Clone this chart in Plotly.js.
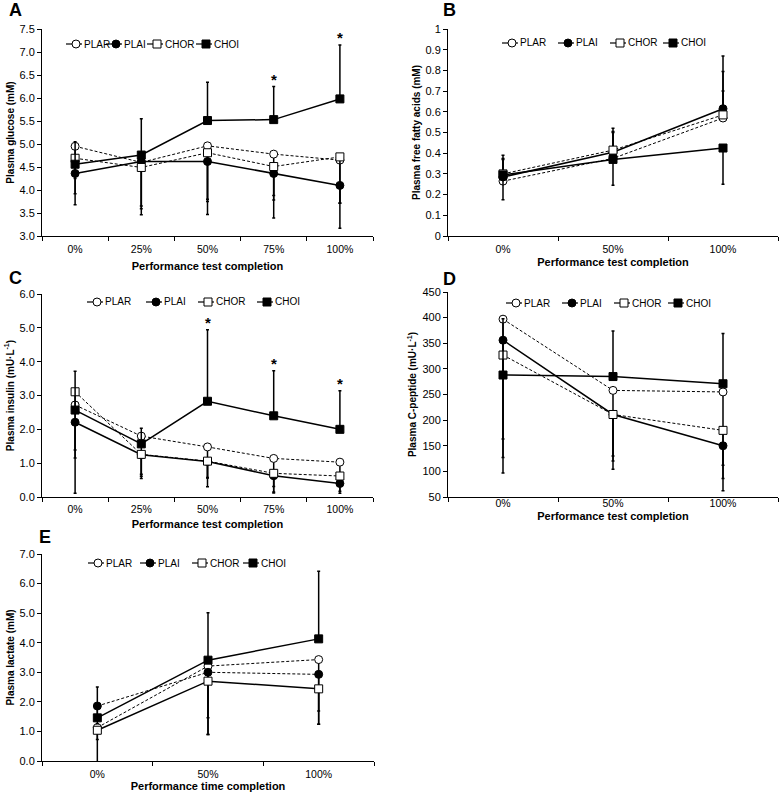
<!DOCTYPE html>
<html><head><meta charset="utf-8">
<script src="https://cdn.plot.ly/plotly-3.0.1.min.js"></script>
<style>html,body{margin:0;padding:0;background:#fff;}#chart{width:779px;height:792px;}</style>
</head><body><div id="chart"></div>
<script>
// ---------------- DATA ----------------
const catsFive = ["0%", "25%", "50%", "75%", "100%"];
const catsThree = ["0%", "50%", "100%"];
const seriesNames = ["PLAR", "PLAI", "CHOR", "CHOI"];

// A: plasma glucose (mM)
const gluPLAR = [4.95, 4.60, 4.96, 4.78, 4.65];
const gluPLAI = [4.36, 4.62, 4.62, 4.36, 4.10];
const gluCHOR = [4.69, 4.49, 4.81, 4.51, 4.72];
const gluCHOI = [4.56, 4.76, 5.51, 5.53, 5.98];
const gluErrPLAR = [0.70, 0.95, 1.16, 0.90, 0.94];   // downward
const gluErrPLAI = [0.68, 1.16, 1.15, 0.97, 0.93];   // downward
const gluErrCHOR = [0.77, 0.90, 1.06, 0.73, 1.00];   // downward
const gluErrCHOI = [0.49, 0.79, 0.83, 0.72, 1.17];   // upward
const gluStars = ["75%", "100%"];

// B: plasma free fatty acids (mM)
const ffaPLAR = [0.265, 0.375, 0.570];
const ffaPLAI = [0.285, 0.405, 0.615];
const ffaCHOR = [0.300, 0.415, 0.585];
const ffaCHOI = [0.295, 0.370, 0.425];
const ffaErrPLAR = [0.105, 0.125, 0.130];  // upward
const ffaErrPLAI = [0.105, 0.115, 0.255];  // upward
const ffaErrCHOR = [0.075, 0.090, 0.210];  // upward
const ffaErrCHOI = [0.120, 0.125, 0.175];  // downward

// C: plasma insulin (mU/L)
const insPLAR = [2.72, 1.80, 1.48, 1.14, 1.03];
const insPLAI = [2.21, 1.25, 1.05, 0.63, 0.40];
const insCHOR = [3.11, 1.26, 1.06, 0.70, 0.62];
const insCHOI = [2.57, 1.57, 2.83, 2.40, 2.00];
const insErrPLAR = [1.33, 1.13, 0.90, 0.83, 0.68];  // downward
const insErrPLAI = [2.10, 0.64, 0.75, 0.51, 0.29];  // downward
const insErrCHOR = [1.96, 0.71, 0.50, 0.55, 0.45];  // downward
const insErrCHOI = [1.15, 0.46, 2.11, 1.33, 1.14];  // upward
const insStars = ["50%", "75%", "100%"];

// D: plasma C-peptide (mU/L)
const cpPLAR = [397, 258, 255];
const cpPLAI = [356, 211, 150];
const cpCHOR = [327, 211, 180];
const cpCHOI = [288, 285, 271];
const cpErrPLAR = [234, 128, 143];  // downward
const cpErrPLAI = [259, 107, 64];   // downward
const cpErrCHOR = [200, 91, 118];   // downward
const cpErrCHOI = [110, 89, 98];    // upward

// E: plasma lactate (mM)
const lacPLAR = [1.13, 3.21, 3.43];
const lacPLAI = [1.86, 3.00, 2.93];
const lacCHOR = [1.04, 2.70, 2.44];
const lacCHOI = [1.46, 3.41, 4.13];
const lacErrPLAR = [0.40, 1.75, 2.19];  // downward
const lacErrPLAI = [0.60, 2.10, 1.24];  // downward
const lacErrCHOR = [1.10, 1.80, 1.20];  // downward
const lacErrCHOI = [1.04, 1.60, 2.29];  // upward

// ---------------- STYLE / LAYOUT ----------------
const W = 779, H = 792;
const FONT = "Arial, 'Liberation Sans', Helvetica, sans-serif";
const px = x => x / W;
const py = y => 1 - y / H;

const DASHED = {dash: "3px,2px", width: 1};
const SOLID = {dash: "solid", width: 1.5};
const MARK = {
  PLAR: {symbol: "circle", fill: "white"},
  PLAI: {symbol: "circle", fill: "black"},
  CHOR: {symbol: "square", fill: "white"},
  CHOI: {symbol: "square", fill: "black"}
};
const LINESTD = {PLAR: DASHED, PLAI: SOLID, CHOR: DASHED, CHOI: SOLID};
const LINEE = {PLAR: DASHED, PLAI: DASHED, CHOR: SOLID, CHOI: SOLID};

function axId(n, letter) { return n === 1 ? letter : letter + n; }

function trace(n, cats, name, y, err, up, lines) {
  const zeros = err.map(() => 0);
  const ls = lines[name];
  const mk = MARK[name];
  return {
    type: "scatter", mode: "lines+markers", name: name,
    x: cats, y: y,
    xaxis: axId(n, "x"), yaxis: axId(n, "y"),
    line: {color: "black", width: ls.width, dash: ls.dash},
    marker: {symbol: mk.symbol, size: 8, color: mk.fill, line: {color: "black", width: 1}},
    error_y: {type: "data", symmetric: false, array: up ? err : zeros, arrayminus: up ? zeros : err,
              color: "black", thickness: 1.5, width: 1.5},
    hoverinfo: "skip", showlegend: false
  };
}

function panel(n, cats, vals, errs, upFlags, lines) {
  return seriesNames.map((s, i) => trace(n, cats, s, vals[i], errs[i], upFlags[i], lines));
}

const data = [].concat(
  panel(1, catsFive, [gluPLAR, gluPLAI, gluCHOR, gluCHOI], [gluErrPLAR, gluErrPLAI, gluErrCHOR, gluErrCHOI], [false, false, false, true], LINESTD),
  panel(2, catsThree, [ffaPLAR, ffaPLAI, ffaCHOR, ffaCHOI], [ffaErrPLAR, ffaErrPLAI, ffaErrCHOR, ffaErrCHOI], [true, true, true, false], LINESTD),
  panel(3, catsFive, [insPLAR, insPLAI, insCHOR, insCHOI], [insErrPLAR, insErrPLAI, insErrCHOR, insErrCHOI], [false, false, false, true], LINESTD),
  panel(4, catsThree, [cpPLAR, cpPLAI, cpCHOR, cpCHOI], [cpErrPLAR, cpErrPLAI, cpErrCHOR, cpErrCHOI], [false, false, false, true], LINESTD),
  panel(5, catsThree, [lacPLAR, lacPLAI, lacCHOR, lacCHOI], [lacErrPLAR, lacErrPLAI, lacErrCHOR, lacErrCHOI], [false, false, false, true], LINEE)
);

function xaxis(n, x0, x1, cats, title, labelShift, titleGap) {
  return {
    domain: [px(x0), px(x1)], anchor: axId(n, "y"),
    type: "category", categoryorder: "array", categoryarray: cats,
    range: [-0.5, cats.length - 0.5],
    showline: true, linecolor: "black", linewidth: 1,
    ticks: "outside", ticklen: 4, tickwidth: 1, tickcolor: "black", tickson: "boundaries",
    ticklabelstandoff: labelShift,
    showgrid: false, zeroline: false, fixedrange: true,
    tickfont: {family: FONT, size: 10.5, color: "black"},
    title: {text: title, font: {family: FONT, size: 11, color: "black", weight: "bold"}, standoff: titleGap}
  };
}
function yaxis(n, yTop, yBottom, range, dtick, fmt, title) {
  const a = {
    domain: [py(yBottom), py(yTop)], anchor: axId(n, "x"),
    range: range, dtick: dtick, tick0: range[0],
    showline: true, linecolor: "black", linewidth: 1,
    ticks: "outside", ticklen: 4, tickwidth: 1, tickcolor: "black",
    showgrid: false, zeroline: false, fixedrange: true,
    tickfont: {family: FONT, size: 11, color: "black"},
    title: {text: title, font: {family: FONT, size: 10, color: "black", weight: "bold"}, standoff: 3}
  };
  if (fmt) a.tickformat = fmt;
  return a;
}

const layout = {
  width: W, height: H,
  margin: {l: 0, r: 0, t: 0, b: 0},
  paper_bgcolor: "white", plot_bgcolor: "white",
  showlegend: false,
  font: {family: FONT, color: "black"},
  xaxis: xaxis(1, 42, 373, catsFive, "Performance test completion", 3, 8),
  yaxis: yaxis(1, 29, 236, [3.0, 7.5], 0.5, ".1f", "Plasma glucose (mM)"),
  xaxis2: xaxis(2, 448, 778, catsThree, "Performance test completion", 3, 4),
  yaxis2: yaxis(2, 29, 236, [0, 1], 0.1, null, "Plasma free fatty acids (mM)"),
  xaxis3: xaxis(3, 42, 373, catsFive, "Performance test completion", 2, 6),
  yaxis3: yaxis(3, 294, 497, [0, 6], 1, ".1f", "Plasma insulin (mU·L<sup>-1</sup>)"),
  xaxis4: xaxis(4, 448, 778, catsThree, "Performance test completion", -4, 4),
  yaxis4: yaxis(4, 292, 497, [50, 450], 50, null, "Plasma C-peptide (mU·L<sup>-1</sup>)"),
  xaxis5: xaxis(5, 42, 374, catsThree, "Performance time completion", 3, 4),
  yaxis5: yaxis(5, 554, 761, [0, 7], 1, ".1f", "Plasma lactate (mM)"),
  shapes: [],
  annotations: []
};

// Panel letters
[["A", 7, 10], ["B", 441, 10], ["C", 7, 278], ["D", 441, 279], ["E", 37, 537]].forEach(([t, x, y]) => {
  layout.annotations.push({text: t, xref: "paper", yref: "paper", x: px(x), y: py(y),
    xanchor: "left", yanchor: "middle", showarrow: false,
    font: {family: FONT, size: 18, color: "black", weight: "bold"}});
});

// Significance stars above CHOI error bars
function stars(n, cats, starCats, vals, errs) {
  starCats.forEach(c => {
    const i = cats.indexOf(c);
    layout.annotations.push({text: "*", xref: axId(n, "x"), yref: axId(n, "y"),
      x: c, y: vals[i] + errs[i], xanchor: "center", yanchor: "bottom", yshift: -3,
      showarrow: false, font: {family: FONT, size: 15, color: "black", weight: "bold"}});
  });
}
stars(1, catsFive, gluStars, gluCHOI, gluErrCHOI);
stars(3, catsFive, insStars, insCHOI, insErrCHOI);

// Legends (drawn keys)
function legend(cxs, cy) {
  seriesNames.forEach((s, i) => {
    const cx = cxs[i];
    const mk = MARK[s];
    layout.shapes.push({type: "line", xref: "paper", yref: "paper",
      x0: px(cx - 10), x1: px(cx + 6), y0: py(cy), y1: py(cy), line: {color: "black", width: 1.2}});
    const r = 4;
    layout.shapes.push({type: mk.symbol === "circle" ? "circle" : "rect", xref: "paper", yref: "paper",
      x0: px(cx - r), x1: px(cx + r), y0: py(cy + r), y1: py(cy - r),
      fillcolor: mk.fill, line: {color: "black", width: 1}});
    layout.annotations.push({text: s, xref: "paper", yref: "paper", x: px(cx + 6), y: py(cy),
      xanchor: "left", yanchor: "middle", showarrow: false,
      font: {family: FONT, size: 10, color: "black"}});
  });
}
legend([76, 116, 157, 206], 44);
legend([512, 568, 620, 673], 43);
legend([97, 156, 208, 267], 302);
legend([516, 572, 624, 678], 303);
legend([98, 150, 202, 253], 563);

Plotly.newPlot("chart", data, layout, {displayModeBar: false, staticPlot: true});
</script></body></html>
